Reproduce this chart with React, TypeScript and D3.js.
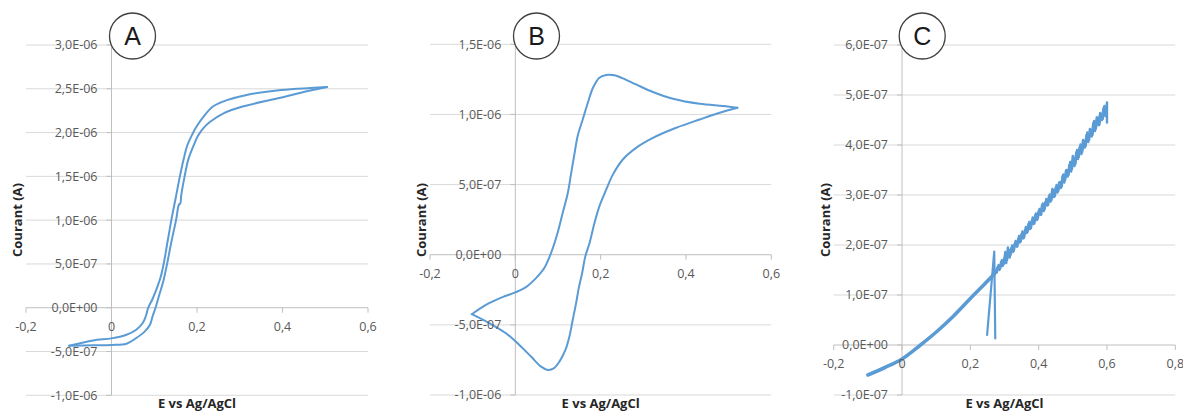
import React from "react";
import * as d3 from "d3";

type Pt = [number, number];

// ---------- Panel A : E (V) vs I (A) ----------
const aReverseScan: Pt[] = [
  [-0.099, -4.33e-7], [-0.043, -3.73e-7], [0, -3.5e-7], [0.035, -3.08e-7], [0.058, -2.51e-7],
  [0.073, -1.75e-7], [0.08, -1.0e-7], [0.086, 0], [0.096, 1.0e-7], [0.106, 2.2e-7],
  [0.115, 3.5e-7], [0.122, 5.0e-7], [0.131, 7.5e-7], [0.14, 1.0e-6], [0.15, 1.25e-6],
  [0.16, 1.5e-6], [0.169, 1.7e-6], [0.177, 1.85e-6], [0.19, 1.99e-6], [0.199, 2.07e-6],
  [0.215, 2.18e-6], [0.238, 2.3e-6], [0.27, 2.37e-6], [0.316, 2.43e-6], [0.387, 2.48e-6],
  [0.504, 2.52e-6],
];
const aForwardScan: Pt[] = [
  [-0.099, -4.33e-7], [-0.043, -4.28e-7], [0, -4.25e-7], [0.035, -4.11e-7], [0.058, -3.46e-7],
  [0.078, -2.7e-7], [0.09, -1.94e-7], [0.096, -1.0e-7], [0.103, 0], [0.112, 1.5e-7],
  [0.121, 3.0e-7], [0.13, 5.0e-7], [0.14, 7.5e-7], [0.151, 1.0e-6], [0.158, 1.18e-6],
  [0.161, 1.19e-6], [0.163, 1.28e-6], [0.171, 1.5e-6], [0.18, 1.7e-6], [0.191, 1.84e-6],
  [0.202, 1.96e-6], [0.215, 2.05e-6], [0.23, 2.12e-6], [0.262, 2.22e-6], [0.309, 2.3e-6],
  [0.387, 2.39e-6], [0.465, 2.48e-6], [0.504, 2.52e-6],
];
const aXTicks = [-0.2, 0, 0.2, 0.4, 0.6];
const aYTicks = [-1e-6, -5e-7, 0, 5e-7, 1e-6, 1.5e-6, 2e-6, 2.5e-6, 3e-6];

// ---------- Panel B ----------
const bAnodicScan: Pt[] = [
  [-0.102, -4.24e-7], [-0.069, -3.57e-7], [-0.03, -3.02e-7], [0, -2.69e-7], [0.025, -2.31e-7],
  [0.0485, -1.67e-7], [0.068, -0.95e-7], [0.078, -0.31e-7], [0.088, 0.48e-7], [0.099, 1.55e-7],
  [0.111, 2.98e-7], [0.123, 4.4e-7], [0.131, 5.83e-7], [0.139, 7.26e-7], [0.146, 8.45e-7],
  [0.158, 9.64e-7], [0.17, 1.083e-6], [0.182, 1.19e-6], [0.197, 1.262e-6], [0.213, 1.281e-6],
  [0.2325, 1.279e-6], [0.252, 1.257e-6], [0.283, 1.214e-6], [0.3225, 1.16e-6], [0.3695, 1.112e-6],
  [0.432, 1.076e-6], [0.487, 1.06e-6], [0.5205, 1.048e-6],
];
const bCathodicScan: Pt[] = [
  [0.5205, 1.048e-6], [0.479, 1.012e-6], [0.432, 9.64e-7], [0.377, 9.05e-7], [0.3225, 8.33e-7],
  [0.283, 7.62e-7], [0.252, 6.79e-7], [0.2286, 5.71e-7], [0.213, 4.64e-7], [0.197, 3.45e-7],
  [0.1855, 2.26e-7], [0.174, 0.83e-7], [0.164, -0.12e-7], [0.1566, -1.31e-7], [0.1487, -2.38e-7],
  [0.1425, -3.45e-7], [0.1346, -4.64e-7], [0.1268, -5.83e-7], [0.1174, -6.79e-7], [0.1033, -7.62e-7],
  [0.09, -8.1e-7], [0.076, -8.21e-7], [0.0603, -7.98e-7], [0.0368, -7.26e-7], [0.0094, -6.43e-7],
  [-0.0219, -5.6e-7], [-0.061, -4.88e-7], [-0.102, -4.24e-7],
];
const bXTicks = [-0.2, 0, 0.2, 0.4, 0.6];
const bYTicks = [-1e-6, -5e-7, 0, 5e-7, 1e-6, 1.5e-6];

// ---------- Panel C ----------
const cSmoothBranch: Pt[] = [
  [-0.1, -0.6e-7], [-0.05, -0.45e-7], [0, -0.28e-7], [0.054, 0], [0.102, 0.27e-7],
  [0.151, 0.58e-7], [0.2, 0.93e-7], [0.239, 1.2e-7], [0.267, 1.4e-7], [0.272, 1.44e-7],
];
const cSpike: Pt[] = [[0.249, 0.2e-7], [0.27, 1.87e-7], [0.273, 0.13e-7]];
const cForwardE = [
  0.272, 0.28, 0.285, 0.29, 0.295, 0.3, 0.305, 0.31, 0.315, 0.32, 0.325, 0.33, 0.335, 0.34, 0.345,
  0.35, 0.355, 0.36, 0.365, 0.37, 0.375, 0.38, 0.385, 0.39, 0.395, 0.4, 0.405, 0.41, 0.415, 0.42,
  0.425, 0.43, 0.435, 0.44, 0.445, 0.45, 0.455, 0.46, 0.465, 0.47, 0.475, 0.48, 0.485, 0.49, 0.495,
  0.5, 0.505, 0.51, 0.515, 0.52, 0.525, 0.53, 0.535, 0.54, 0.545, 0.55, 0.555, 0.56, 0.565, 0.57,
  0.575, 0.58, 0.585, 0.59, 0.595, 0.6, 0.6,
];
const cForwardI = [
  1.44, 1.56, 1.5, 1.66, 1.58, 1.74, 1.64, 1.95, 1.75, 1.94, 1.86, 2.03, 1.97, 2.12, 2.05,
  2.22, 2.13, 2.3, 2.24, 2.42, 2.32, 2.49, 2.42, 2.6, 2.5, 2.68, 2.6, 2.8, 2.68, 2.86,
  2.79, 2.97, 2.87, 3.12, 2.96, 3.15, 3.05, 3.25, 3.14, 3.38, 3.25, 3.49, 3.37, 3.6, 3.47,
  3.78, 3.58, 3.85, 3.72, 3.96, 3.82, 4.1, 3.95, 4.2, 4.06, 4.32, 4.17, 4.44, 4.28, 4.55,
  4.4, 4.64, 4.5, 4.74, 4.58, 4.85, 4.45,
].map((v) => v * 1e-7);
const cReturnE = [
  0.5975, 0.5925, 0.5875, 0.5825, 0.5775, 0.5725, 0.5675, 0.5625, 0.5575, 0.5525, 0.5475, 0.5425,
  0.5375, 0.5325, 0.5275, 0.5225, 0.5175, 0.5125, 0.5075, 0.5025, 0.4975, 0.4925, 0.4875, 0.4825,
  0.4775, 0.4725, 0.4675, 0.4625, 0.4575, 0.4525, 0.4475, 0.4425, 0.4375, 0.4325, 0.4275, 0.4225,
  0.4175, 0.4125, 0.4075, 0.4025, 0.3975, 0.3925, 0.3875, 0.3825, 0.3775, 0.3725, 0.3675, 0.3625,
  0.3575, 0.3525, 0.3475, 0.3425, 0.3375, 0.3325, 0.3275, 0.3225, 0.3175, 0.3125, 0.3075, 0.3025,
  0.2975, 0.2925, 0.2875, 0.2825, 0.2775,
];
const cReturnI = [
  4.6, 4.78, 4.52, 4.62, 4.4, 4.55, 4.33, 4.48, 4.2, 4.3, 4.1, 4.25,
  3.98, 4.08, 3.86, 4.01, 3.76, 3.9, 3.62, 3.74, 3.52, 3.66, 3.4, 3.5,
  3.3, 3.41, 3.17, 3.26, 3.08, 3.2, 2.98, 3.1, 2.9, 3.01, 2.8, 2.92,
  2.72, 2.83, 2.61, 2.72, 2.53, 2.63, 2.43, 2.55, 2.34, 2.46, 2.26, 2.36,
  2.15, 2.27, 2.07, 2.18, 1.97, 2.08, 1.89, 1.99, 1.8, 1.9, 1.7, 1.86,
  1.62, 1.7, 1.53, 1.6, 1.45,
].map((v) => v * 1e-7);
const cXTicks = [-0.2, 0, 0.2, 0.4, 0.6, 0.8];
const cYTicks = [-1e-7, 0, 1e-7, 2e-7, 3e-7, 4e-7, 5e-7, 6e-7];

const xTitle = "E vs Ag/AgCl";
const yTitle = "Courant (A)";

// ---------- layout ----------
const COLOR = "#5B9BD5";
const GRID = "#D9D9D9";
const AXIS = "#BFBFBF";
const LABEL = "#595959";
const FONT = "'Open Sans', 'Noto Sans', sans-serif";

interface Series { pts: Pt[]; w: number; smooth: boolean; }
interface PanelCfg {
  letter: string;
  xTicks: number[];
  yTicks: number[];
  series: Series[];
  left: number; right: number; top: number; bottom: number;
  yTitleX: number; circleX: number;
}

function fmtSci(v: number): string {
  if (Math.abs(v) < 1e-15) return "0,0E+00";
  const [m, e] = v.toExponential(1).split("e");
  const ei = parseInt(e, 10);
  return m.replace(".", ",") + "E" + (ei < 0 ? "-" : "+") + String(Math.abs(ei)).padStart(2, "0");
}
function fmtX(v: number): string {
  if (Math.abs(v) < 1e-9) return "0";
  return v.toFixed(1).replace(".", ",");
}

function Panel({ c }: { c: PanelCfg }) {
  const x = d3.scaleLinear().domain([c.xTicks[0], c.xTicks[c.xTicks.length - 1]]).range([c.left, c.right]);
  const y = d3.scaleLinear().domain([c.yTicks[0], c.yTicks[c.yTicks.length - 1]]).range([c.bottom, c.top]);
  const smoothLine = d3.line<Pt>().x((d) => x(d[0])).y((d) => y(d[1])).curve(d3.curveCatmullRom.alpha(0.5));
  const rawLine = d3.line<Pt>().x((d) => x(d[0])).y((d) => y(d[1])).curve(d3.curveLinear);
  const x0 = x(0);
  const y0 = y(0);
  return (
    <g>
      {c.yTicks.filter((t) => Math.abs(t) > 1e-15).map((t, i) => (
        <line key={"g" + i} x1={c.left} x2={c.right} y1={y(t)} y2={y(t)} stroke={GRID} strokeWidth={1} />
      ))}
      <line x1={c.left} x2={c.right} y1={y0} y2={y0} stroke={AXIS} strokeWidth={1} />
      {c.xTicks.map((t, i) => (
        <line key={"xt" + i} x1={x(t)} x2={x(t)} y1={y0} y2={y0 + 5} stroke={AXIS} strokeWidth={1} />
      ))}
      <line x1={x0} x2={x0} y1={c.top} y2={c.bottom} stroke={AXIS} strokeWidth={1} />
      {c.yTicks.map((t, i) => (
        <line key={"yt" + i} x1={x0 - 5} x2={x0} y1={y(t)} y2={y(t)} stroke={AXIS} strokeWidth={1} />
      ))}
      {c.series.map((s, i) => (
        <path key={"s" + i} d={(s.smooth ? smoothLine(s.pts) : rawLine(s.pts)) || ""} fill="none"
          stroke={COLOR} strokeWidth={s.w} strokeLinejoin="round" strokeLinecap="round" />
      ))}
      {c.yTicks.map((t, i) => (
        <text key={"yl" + i} x={x0 - 14} y={y(t)} dy="0.35em" textAnchor="end" fontSize={12.5}
          fontFamily={FONT} fill={LABEL}>{fmtSci(t)}</text>
      ))}
      {c.xTicks.map((t, i) => (
        <text key={"xl" + i} x={x(t)} y={y0 + 23} textAnchor="middle" fontSize={12.5}
          fontFamily={FONT} fill={LABEL}>{fmtX(t)}</text>
      ))}
      <text x={(c.left + c.right) / 2} y={407.5} textAnchor="middle" fontSize={13} fontWeight="bold"
        fontFamily={FONT} fill="#262626">{xTitle}</text>
      <text transform={`translate(${c.yTitleX},220) rotate(-90)`} textAnchor="middle" dy="0.35em"
        fontSize={13} fontWeight="bold" fontFamily={FONT} fill="#262626">{yTitle}</text>
      <circle cx={c.circleX} cy={36} r={23} fill="#fff" stroke="#404040" strokeWidth={1.3} />
      <text x={c.circleX} y={36} dy="0.36em" textAnchor="middle" fontSize={25}
        fontFamily="'Liberation Sans', Arial, sans-serif" fill="#1a1a1a">{c.letter}</text>
    </g>
  );
}

const cForward: Pt[] = cForwardE.map((e, i) => [e, cForwardI[i]] as Pt);
const cReturn: Pt[] = cReturnE.map((e, i) => [e, cReturnI[i]] as Pt);

const panels: PanelCfg[] = [
  { letter: "A", xTicks: aXTicks, yTicks: aYTicks,
    series: [{ pts: aReverseScan, w: 2, smooth: true }, { pts: aForwardScan, w: 2, smooth: true }],
    left: 26, right: 368, top: 45, bottom: 395.3, yTitleX: 17, circleX: 132.5 },
  { letter: "B", xTicks: bXTicks, yTicks: bYTicks,
    series: [{ pts: bAnodicScan, w: 2, smooth: true }, { pts: bCathodicScan, w: 2, smooth: true }],
    left: 430, right: 771.3, top: 44.3, bottom: 395, yTitleX: 421, circleX: 536.5 },
  { letter: "C", xTicks: cXTicks, yTicks: cYTicks,
    series: [
      { pts: cSmoothBranch, w: 3.6, smooth: true },
      { pts: cSpike, w: 2.2, smooth: false },
      { pts: cForward, w: 2.4, smooth: false },
      { pts: cReturn, w: 2.4, smooth: false },
    ],
    left: 833.7, right: 1175.3, top: 45, bottom: 395, yTitleX: 825, circleX: 922.2 },
];

export default function App() {
  return (
    <svg width={1183} height={414} style={{ position: "absolute", left: 0, top: 0, background: "#fff" }}>
      <rect width={1183} height={414} fill="#fff" />
      {panels.map((p) => <Panel key={p.letter} c={p} />)}
    </svg>
  );
}
